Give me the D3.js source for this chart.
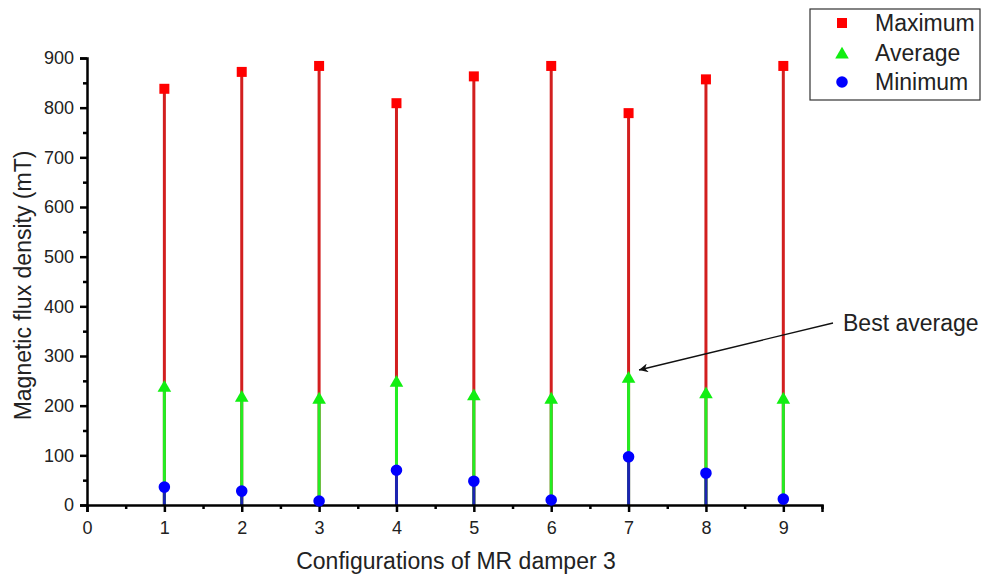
<!DOCTYPE html>
<html>
<head>
<meta charset="utf-8">
<script src="https://cdn.jsdelivr.net/npm/d3@7"></script>
<style>
  body { margin: 0; background: #fff; }
  svg { font-family: "Liberation Sans", Arial, sans-serif; }
</style>
</head>
<body>
<div id="chart"></div>
<script>
const configs = [1, 2, 3, 4, 5, 6, 7, 8, 9];
const maximum = [838, 872, 884, 809, 863, 884, 789, 857, 884];
const average = [240, 220, 216, 250, 223, 216, 258, 227, 216];
const minimum = [36, 28, 8, 70, 48, 10, 97, 64, 12];
const xTicks = [0, 1, 2, 3, 4, 5, 6, 7, 8, 9];
const yTicks = [0, 100, 200, 300, 400, 500, 600, 700, 800, 900];

const width = 984, height = 580;
const svg = d3.select("#chart").append("svg")
    .attr("width", width).attr("height", height);

const x = d3.scaleLinear().domain([0, 9.5]).range([87, 822]);
const y = d3.scaleLinear().domain([0, 900]).range([505, 58]);

const series = [
    { name: "Maximum", values: maximum, line: "#d21f1f", fill: "#ff0000", symbol: d3.symbolSquare, size: 100 },
    { name: "Average", values: average, line: "#22ee22", fill: "#11ee11", symbol: d3.symbolTriangle, size: 80 },
    { name: "Minimum", values: minimum, line: "#1c24b0", fill: "#0000ff", symbol: d3.symbolCircle, size: 105 }
];

// stems
series.forEach(s => {
    svg.append("g").selectAll("line")
        .data(configs).enter().append("line")
        .attr("x1", d => x(d)).attr("x2", d => x(d))
        .attr("y1", y(0)).attr("y2", (d, i) => y(s.values[i]))
        .attr("stroke", s.line).attr("stroke-width", 3);
});

// axes
const xAxis = svg.append("g").attr("transform", `translate(0,${y(0)})`)
    .call(d3.axisBottom(x).tickValues(xTicks).tickSize(7).tickPadding(9).tickFormat(d3.format("d")));
const xMinor = svg.append("g").attr("transform", `translate(0,${y(0)})`)
    .call(d3.axisBottom(x).tickValues(d3.range(0.5, 9.6, 1)).tickSize(4).tickFormat(""));
const yAxis = svg.append("g").attr("transform", `translate(${x(0)},0)`)
    .call(d3.axisLeft(y).tickValues(yTicks).tickSize(7).tickPadding(6).tickFormat(d3.format("d")));
const yMinor = svg.append("g").attr("transform", `translate(${x(0)},0)`)
    .call(d3.axisLeft(y).tickValues(d3.range(50, 900, 100)).tickSize(4).tickFormat(""));

[xAxis, xMinor, yAxis, yMinor].forEach(g => {
    g.select(".domain").attr("stroke", "#000").attr("stroke-width", 2.5);
    g.selectAll(".tick line").attr("stroke", "#000").attr("stroke-width", 2.5);
    g.selectAll("text").attr("font-size", 18).attr("fill", "#222")
        .attr("font-family", "Liberation Sans, Arial, sans-serif");
});
xMinor.select(".domain").remove();
yMinor.select(".domain").remove();

// markers
series.forEach(s => {
    svg.append("g").selectAll("path")
        .data(configs).enter().append("path")
        .attr("transform", (d, i) => `translate(${x(d)},${y(s.values[i]) + (s.symbol === d3.symbolTriangle ? 2 : 0)})`)
        .attr("d", d3.symbol().type(s.symbol).size(s.size))
        .attr("fill", s.fill);
});

// axis titles
svg.append("text")
    .attr("transform", `translate(31,${(y(0) + y(900)) / 2 + 4}) rotate(-90)`)
    .attr("text-anchor", "middle").attr("font-size", 23).attr("fill", "#222")
    .text("Magnetic flux density (mT)");
svg.append("text")
    .attr("x", 456).attr("y", 569)
    .attr("text-anchor", "middle").attr("font-size", 23).attr("fill", "#222")
    .text("Configurations of MR damper 3");

// legend
const legend = svg.append("g");
legend.append("rect")
    .attr("x", 810).attr("y", 9).attr("width", 170).attr("height", 91)
    .attr("fill", "#fff").attr("stroke", "#333").attr("stroke-width", 1.2);
series.forEach((s, i) => {
    const ly = 23 + i * 29.5;
    legend.append("path")
        .attr("transform", `translate(842,${ly + (s.symbol === d3.symbolTriangle ? 2 : 0)})`)
        .attr("d", d3.symbol().type(s.symbol).size(s.size))
        .attr("fill", s.fill);
    legend.append("text")
        .attr("x", 875).attr("y", ly).attr("dy", "0.36em")
        .attr("font-size", 23).attr("fill", "#222")
        .text(s.name);
});

// annotation
svg.append("defs").append("marker")
    .attr("id", "arrow").attr("viewBox", "0 0 10 10")
    .attr("refX", 10).attr("refY", 5)
    .attr("markerWidth", 9).attr("markerHeight", 9)
    .attr("markerUnits", "userSpaceOnUse")
    .attr("orient", "auto")
    .append("path").attr("d", "M0,0 L10,5 L0,10 L3,5 Z").attr("fill", "#111");
svg.append("line")
    .attr("x1", 833).attr("y1", 323).attr("x2", 639).attr("y2", 370)
    .attr("stroke", "#111").attr("stroke-width", 1.3)
    .attr("marker-end", "url(#arrow)");
svg.append("text")
    .attr("x", 843).attr("y", 323).attr("dy", "0.36em")
    .attr("font-size", 23).attr("fill", "#222")
    .text("Best average");
</script>
</body>
</html>
